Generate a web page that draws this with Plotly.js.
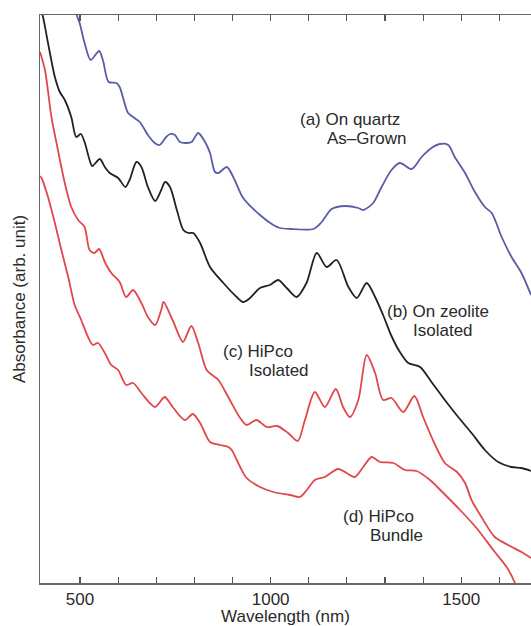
<!DOCTYPE html>
<html>
<head>
<meta charset="utf-8">
<script src="https://cdn.plot.ly/plotly-3.0.1.min.js"></script>
<style>
  html, body { margin: 0; padding: 0; background: #fff; }
  #chart { width: 531px; height: 626px; }
</style>
</head>
<body>
<div id="chart"></div>
<script>
// Absorption spectra of single-walled carbon nanotubes, offset for clarity.
// Wavelength in nm, absorbance in arbitrary units.

// (a) On quartz, as-grown
const aWl  = [484, 493, 499, 512, 528, 550, 560, 575, 595, 604, 626, 643, 657, 678, 696, 709, 726, 736, 749, 762, 780, 793, 810, 828, 841, 854, 863, 885, 902, 928, 972, 1007, 1024, 1051, 1112, 1134, 1160, 1195, 1230, 1243, 1269, 1291, 1317, 1339, 1370, 1396, 1422, 1444, 1466, 1483, 1510, 1536, 1562, 1580, 1606, 1632, 1658, 1683];
const aAbs = [5.78, 5.66, 5.60, 5.40, 5.23, 5.32, 5.23, 5.01, 5.00, 4.96, 4.70, 4.65, 4.61, 4.48, 4.40, 4.38, 4.46, 4.49, 4.48, 4.41, 4.40, 4.41, 4.50, 4.41, 4.30, 4.11, 4.10, 4.16, 4.06, 3.85, 3.68, 3.58, 3.55, 3.54, 3.54, 3.61, 3.74, 3.77, 3.75, 3.73, 3.80, 3.96, 4.13, 4.20, 4.14, 4.26, 4.35, 4.39, 4.38, 4.26, 4.10, 3.91, 3.76, 3.70, 3.46, 3.26, 3.10, 2.88];

// (b) On zeolite, isolated
const bWl  = [398, 403, 416, 434, 447, 460, 477, 490, 502, 512, 525, 532, 552, 565, 578, 600, 619, 630, 648, 661, 678, 697, 713, 723, 736, 754, 771, 784, 797, 815, 841, 876, 911, 928, 946, 972, 998, 1020, 1042, 1068, 1094, 1121, 1147, 1173, 1204, 1226, 1252, 1274, 1295, 1317, 1339, 1361, 1392, 1422, 1457, 1492, 1527, 1562, 1597, 1632, 1658, 1683];
const bAbs = [5.73, 5.66, 5.40, 5.06, 4.91, 4.83, 4.66, 4.46, 4.49, 4.41, 4.23, 4.17, 4.24, 4.16, 4.10, 4.05, 3.96, 4.03, 4.21, 4.16, 3.96, 3.82, 3.93, 4.01, 3.96, 3.73, 3.53, 3.50, 3.50, 3.40, 3.16, 3.00, 2.86, 2.81, 2.85, 2.95, 2.98, 3.03, 2.95, 2.86, 3.00, 3.30, 3.16, 3.23, 2.96, 2.85, 3.00, 2.86, 2.68, 2.47, 2.31, 2.20, 2.16, 2.01, 1.83, 1.66, 1.50, 1.33, 1.21, 1.16, 1.15, 1.12];

// (c) HiPco, isolated
const cWl  = [395, 408, 425, 442, 460, 477, 495, 512, 525, 538, 550, 565, 582, 604, 621, 639, 661, 678, 697, 713, 719, 745, 770, 792, 810, 832, 850, 863, 893, 920, 937, 963, 990, 1017, 1046, 1071, 1090, 1116, 1142, 1171, 1190, 1208, 1230, 1252, 1274, 1295, 1317, 1348, 1377, 1400, 1428, 1457, 1489, 1510, 1527, 1553, 1588, 1623, 1658, 1683];
const cAbs = [5.31, 5.13, 4.66, 4.33, 4.00, 3.76, 3.63, 3.56, 3.33, 3.30, 3.34, 3.21, 3.10, 3.01, 2.86, 2.93, 2.80, 2.66, 2.58, 2.73, 2.81, 2.61, 2.41, 2.57, 2.40, 2.13, 2.07, 2.03, 1.83, 1.65, 1.58, 1.63, 1.56, 1.57, 1.50, 1.42, 1.63, 1.91, 1.76, 1.94, 1.76, 1.66, 1.83, 2.28, 2.10, 1.83, 1.85, 1.71, 1.87, 1.66, 1.41, 1.20, 1.11, 1.00, 0.83, 0.66, 0.46, 0.38, 0.31, 0.25];

// (d) HiPco, bundle
const dWl  = [395, 399, 416, 434, 451, 469, 486, 503, 521, 534, 547, 565, 582, 600, 621, 639, 661, 683, 697, 718, 723, 745, 775, 796, 815, 841, 867, 889, 898, 920, 937, 972, 1007, 1051, 1077, 1095, 1116, 1142, 1177, 1199, 1221, 1243, 1265, 1287, 1322, 1352, 1383, 1418, 1453, 1497, 1540, 1584, 1619, 1641, 1649];
const dAbs = [4.07, 4.05, 3.86, 3.60, 3.33, 3.06, 2.78, 2.63, 2.46, 2.38, 2.40, 2.30, 2.18, 2.13, 1.98, 2.00, 1.90, 1.80, 1.76, 1.85, 1.86, 1.75, 1.63, 1.69, 1.60, 1.41, 1.38, 1.36, 1.33, 1.16, 1.05, 0.96, 0.91, 0.88, 0.86, 0.93, 1.03, 1.06, 1.14, 1.10, 1.06, 1.16, 1.26, 1.21, 1.20, 1.13, 1.12, 1.03, 0.90, 0.73, 0.55, 0.33, 0.16, 0.00, -0.09];

// Wavelength ticks every 100 nm, labelled at 500, 1000 and 1500
const tickVals   = [500, 600, 700, 800, 900, 1000, 1100, 1200, 1300, 1400, 1500, 1600];
const tickLabels = ['500', '', '', '', '', '1000', '', '', '', '', '1500', ''];

const FONT = '"Liberation Sans", Arial, Helvetica, sans-serif';
const INK = '#2a2a2a';

function spectrum(x, y, color) {
  return {
    x: x, y: y, type: 'scatter', mode: 'lines',
    line: { color: color, width: 1.8, shape: 'spline', smoothing: 0.8 },
    hoverinfo: 'skip', showlegend: false
  };
}

function label(text, x, y) {
  return {
    text: text, x: x, y: y, xref: 'x', yref: 'y',
    xanchor: 'left', yanchor: 'middle', showarrow: false,
    borderpad: 0,
    font: { family: FONT, size: 17, color: INK }
  };
}

const data = [
  spectrum(aWl, aAbs, '#5a5ca8'),
  spectrum(bWl, bAbs, '#222222'),
  spectrum(cWl, cAbs, '#e0484c'),
  spectrum(dWl, dAbs, '#e0484c')
];

const layout = {
  width: 531, height: 626,
  margin: { l: 40, r: 0, t: 15, b: 43 },
  paper_bgcolor: '#ffffff', plot_bgcolor: '#ffffff',
  font: { family: FONT, size: 17, color: INK },
  xaxis: {
    range: [395, 1683], fixedrange: true,
    showgrid: false, zeroline: false,
    showline: true, linecolor: '#666666', linewidth: 1.5, mirror: 'ticks',
    ticks: 'inside', ticklen: 6, tickwidth: 1.2, tickcolor: '#555555',
    tickmode: 'array', tickvals: tickVals, ticktext: tickLabels,
    tickfont: { family: FONT, size: 17, color: INK },
    title: { text: 'Wavelength (nm)', standoff: 2, font: { family: FONT, size: 17, color: INK } }
  },
  yaxis: {
    range: [0, 5.68], fixedrange: true,
    showgrid: false, zeroline: false,
    showline: true, linecolor: '#666666', linewidth: 1.5,
    ticks: '', showticklabels: false,
    title: { text: 'Absorbance (arb. unit)', standoff: 8, font: { family: FONT, size: 17, color: INK } }
  },
  annotations: [
    label('(a) On quartz', 1074, 4.64),
    label('As\u2013Grown', 1144, 4.45),
    label('(b) On zeolite', 1302, 2.72),
    label('Isolated', 1371, 2.53),
    label('(c) HiPco', 872, 2.32),
    label('Isolated', 941, 2.13),
    label('(d) HiPco', 1186, 0.67),
    label('Bundle', 1258, 0.48)
  ]
};

Plotly.newPlot('chart', data, layout, { displayModeBar: false, staticPlot: true });
</script>
</body>
</html>
